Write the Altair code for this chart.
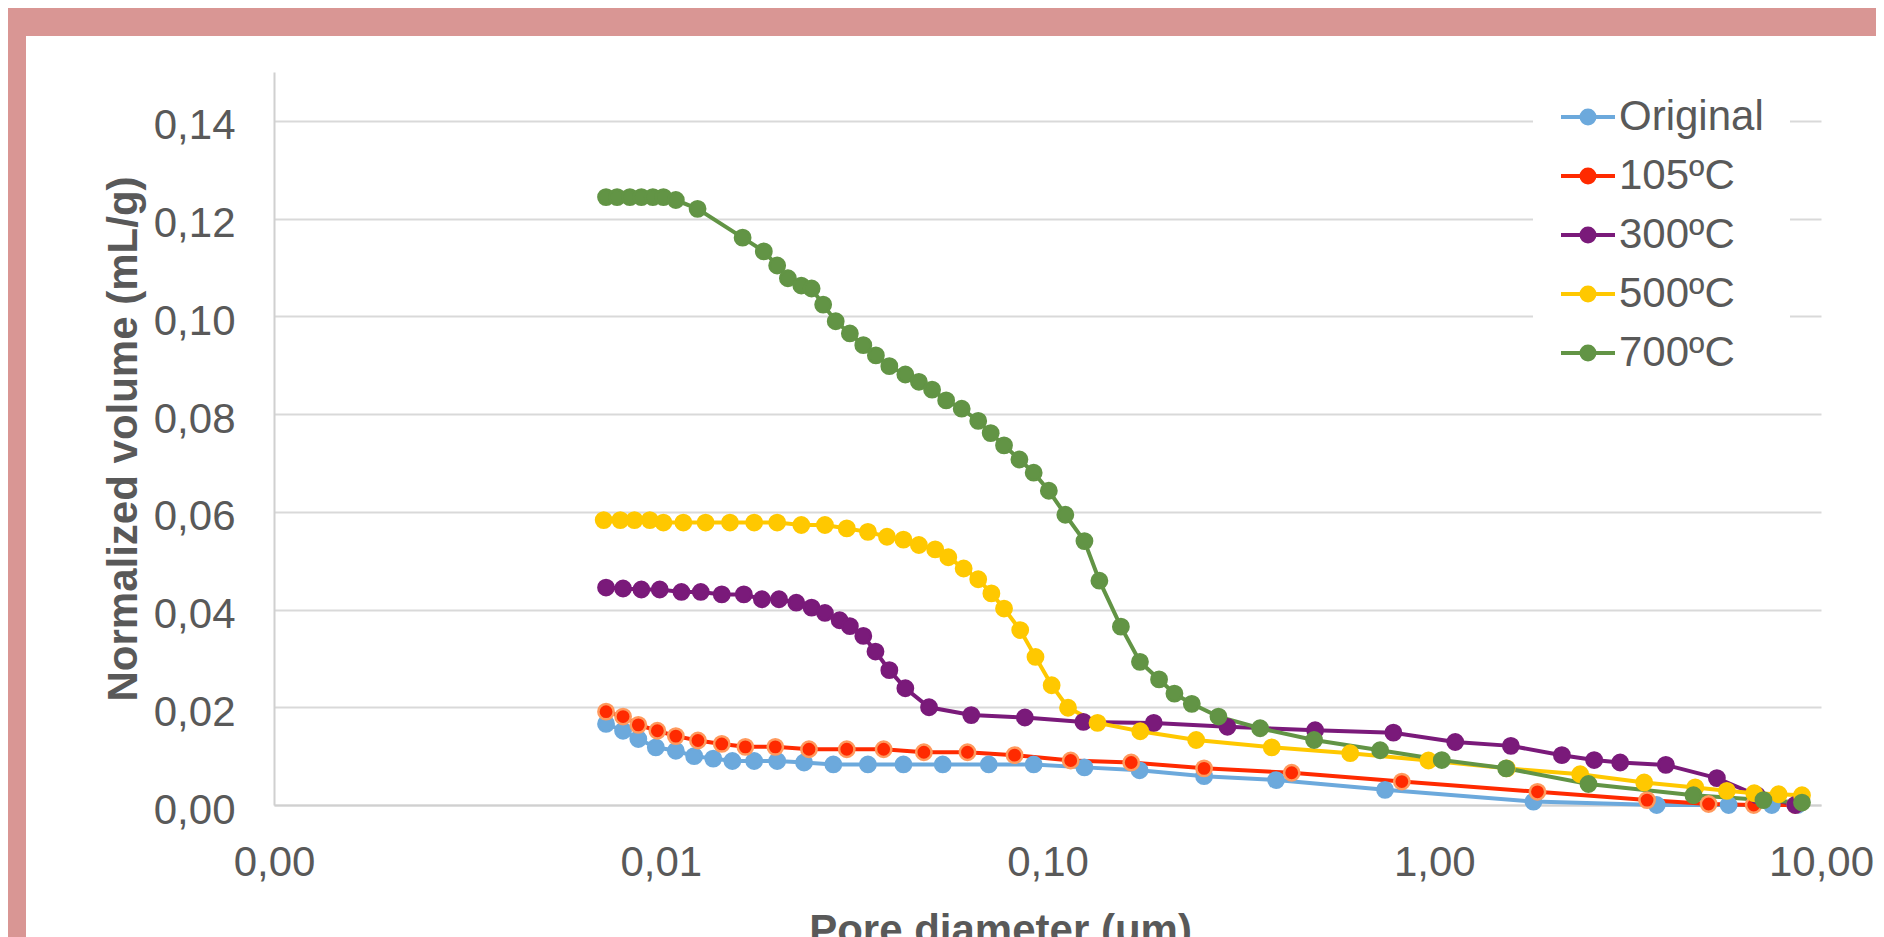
import altair as alt
import pandas as pd

# ---------------- data ----------------
series_names = ["Original", "105ºC", "300ºC", "500ºC", "700ºC"]
series_colors = ["#6CA9DC", "#FF2A00", "#7A1A7A", "#FFC800", "#629445"]
halo_105 = "#FF9A5E"

orig_x = [0.00722, 0.00799, 0.00875, 0.00971, 0.01094, 0.0122, 0.01367, 0.01532, 0.01744, 0.0200,
          0.02347, 0.02794, 0.03433, 0.04241, 0.0536, 0.0705, 0.0921, 0.1246, 0.1730, 0.254,
          0.390, 0.746, 1.805, 3.76, 5.77, 7.46, 8.7]
orig_y = [0.0166, 0.0152, 0.0135, 0.0118, 0.0111, 0.0100, 0.0095, 0.0090, 0.0090, 0.0090,
          0.0087, 0.0083, 0.0083, 0.0083, 0.0083, 0.0083, 0.0083, 0.0077, 0.0071, 0.0059,
          0.0051, 0.0031, 0.0007, 0.0000, 0.0000, 0.0000, 0.0000]

t105_x = [0.00722, 0.00799, 0.00875, 0.00980, 0.01094, 0.01248, 0.01438, 0.01655, 0.01978, 0.02417,
          0.03027, 0.0377, 0.0479, 0.0621, 0.0822, 0.1148, 0.1646, 0.254, 0.428, 0.8245,
          1.849, 3.55, 5.12, 6.70, 8.58]
t105_y = [0.0191, 0.0181, 0.0164, 0.0152, 0.0141, 0.0132, 0.0125, 0.0119, 0.0119, 0.0114,
          0.0114, 0.0114, 0.0108, 0.0108, 0.0102, 0.0091, 0.0087, 0.0075, 0.0066, 0.0048,
          0.0027, 0.0010, 0.0002, 0.0000, 0.0000]

t300_x = [0.00722, 0.00799, 0.00891, 0.00994, 0.01131, 0.01269, 0.01438, 0.01640, 0.01826, 0.02022,
          0.02241, 0.02455, 0.02658, 0.02901, 0.03083, 0.0334, 0.03591, 0.0390, 0.0429, 0.0494,
          0.0635, 0.0874, 0.1238, 0.1883, 0.2919, 0.492, 0.784, 1.133, 1.578, 2.138,
          2.591, 3.025, 3.97, 5.38, 6.83, 8.58]
t300_y = [0.0445, 0.0443, 0.0441, 0.0441, 0.0436, 0.0436, 0.0431, 0.0431, 0.0421, 0.0421,
          0.0414, 0.0404, 0.0393, 0.0378, 0.0366, 0.0346, 0.0314, 0.0276, 0.0239, 0.0200,
          0.0184, 0.0179, 0.0170, 0.0168, 0.0160, 0.0153, 0.0148, 0.0129, 0.0121, 0.0102,
          0.0092, 0.0087, 0.0082, 0.0055, 0.0020, 0.0000]

t500_x = [0.00712, 0.00786, 0.00855, 0.00937, 0.01016, 0.01144, 0.01306, 0.01510, 0.01744, 0.0200,
          0.02309, 0.02658, 0.03027, 0.03433, 0.03846, 0.04241, 0.0465, 0.05124, 0.0554, 0.0607,
          0.0662, 0.0716, 0.0772, 0.0850, 0.0931, 0.1025, 0.1130, 0.1347, 0.1737, 0.2423,
          0.380, 0.6063, 0.9661, 1.54, 2.384, 3.49, 4.73, 5.71, 6.72, 7.77, 8.93]
t500_y = [0.0583, 0.0583, 0.0583, 0.0583, 0.0578, 0.0578, 0.0578, 0.0578, 0.0578, 0.0578,
          0.0573, 0.0573, 0.0566, 0.0559, 0.0549, 0.0543, 0.0532, 0.0523, 0.0507, 0.0484,
          0.0462, 0.0433, 0.0402, 0.0358, 0.0303, 0.0245, 0.0199, 0.0168, 0.0151, 0.0133,
          0.0118, 0.0106, 0.0091, 0.0075, 0.0063, 0.0046, 0.0036, 0.0029, 0.0024, 0.0022, 0.0020]

t700_x = [0.00722, 0.00771, 0.00832, 0.00891, 0.00954, 0.01016, 0.01094, 0.01245, 0.01628, 0.01847,
          0.0200, 0.02132, 0.02309, 0.02455, 0.0263, 0.02834, 0.03083, 0.0334, 0.0360, 0.0390,
          0.0429, 0.0465, 0.0503, 0.0547, 0.0600, 0.0662, 0.0713, 0.0772, 0.0846, 0.0921,
          0.1008, 0.1112, 0.1246, 0.1362, 0.1548, 0.1734, 0.1943, 0.2129, 0.2361, 0.2767,
          0.3546, 0.489, 0.7245, 1.046, 1.534, 2.505, 4.68, 7.10, 8.93]
t700_y = [0.1244, 0.1244, 0.1244, 0.1244, 0.1244, 0.1244, 0.1238, 0.1220, 0.1161, 0.1133,
          0.1104, 0.1078, 0.1063, 0.1057, 0.1024, 0.0990, 0.0965, 0.0941, 0.0920, 0.0898,
          0.0881, 0.0866, 0.0850, 0.0828, 0.0811, 0.0786, 0.0761, 0.0736, 0.0707, 0.0680,
          0.0643, 0.0594, 0.0540, 0.0459, 0.0365, 0.0293, 0.0257, 0.0228, 0.0207, 0.0181,
          0.0157, 0.0133, 0.0112, 0.0092, 0.0075, 0.0043, 0.0020, 0.0010, 0.0005]

x_tick_values = [0.001, 0.01, 0.1, 1, 10]
x_tick_labels = ["0,00", "0,01", "0,10", "1,00", "10,00"]
y_tick_values = [0, 0.02, 0.04, 0.06, 0.08, 0.1, 0.12, 0.14]
y_tick_labels = ["0,00", "0,02", "0,04", "0,06", "0,08", "0,10", "0,12", "0,14"]

# ---------------- table ----------------
rows = []
for name, xs, ys in zip(series_names,
                        [orig_x, t105_x, t300_x, t500_x, t700_x],
                        [orig_y, t105_y, t300_y, t500_y, t700_y]):
    for a, b in zip(xs, ys):
        rows.append({"series": name, "d": a, "v": b})
df = pd.DataFrame(rows)

FONT = "Liberation Sans"
TXT = "#595959"
GRID = "#D9D9D9"
PINK = "#D99694"


def lab_expr(vals, labs):
    v = "[" + ",".join(repr(x) for x in vals) + "]"
    l = "[" + ",".join("'" + s + "'" for s in labs) + "]"
    return f"{l}[indexof({v}, datum.value)]"


color_scale = alt.Scale(domain=series_names, range=series_colors)

legend_symbol = ("M-1,0L1,0M-0.24,0A0.24,0.24,0,1,1,0.24,0"
                 "A0.24,0.24,0,1,1,-0.24,0Z")
leg = alt.Legend(
    title=None, orient="none", legendX=1259, legendY=-10, padding=26,
    fillColor="white", symbolType=legend_symbol, symbolSize=2916,
    symbolStrokeWidth=4, labelFont=FONT, labelFontSize=42,
    labelColor=TXT, labelOffset=2, rowPadding=9, labelLimit=500,
)

x_enc = alt.X(
    "d:Q",
    scale=alt.Scale(type="log", domain=[0.001, 10]),
    axis=alt.Axis(
        values=x_tick_values, labelExpr=lab_expr(x_tick_values, x_tick_labels),
        grid=False, ticks=False, tickSize=0, domainColor="#D0D0D0", domainWidth=2,
        labelFont=FONT, labelFontSize=42, labelColor=TXT, labelPadding=37,
        labelFlush=False, labelOverlap=False,
        title="Pore diameter (um)", titleFont=FONT, titleFontSize=42,
        titleFontWeight="bold", titleColor=TXT, titleX=726, titleY=138,
        titleBaseline="alphabetic", titleAlign="center",
    ),
)
y_enc = alt.Y(
    "v:Q",
    scale=alt.Scale(domain=[0, 0.15], nice=False),
    axis=alt.Axis(
        values=y_tick_values, labelExpr=lab_expr(y_tick_values, y_tick_labels),
        grid=True, gridColor=GRID, gridWidth=2, ticks=False, tickSize=0,
        domainColor="#D0D0D0", domainWidth=2,
        labelFont=FONT, labelFontSize=42, labelColor=TXT, labelPadding=39,
        labelOffset=5, labelFlush=False, labelOverlap=False,
        title="Normalized volume (mL/g)", titleFont=FONT, titleFontSize=42,
        titleFontWeight="bold", titleColor=TXT, titleX=-138, titleY=366.5,
        titleAngle=270, titleBaseline="alphabetic", titleAlign="center",
    ),
)

base = alt.Chart(df)

lines = base.mark_line(strokeWidth=4).encode(
    x=x_enc, y=y_enc,
    stroke=alt.Stroke("series:N", scale=color_scale, sort=series_names, legend=leg),
    detail="series:N",
)

points = base.mark_circle(size=235, opacity=1, strokeWidth=2.5).encode(
    x=x_enc, y=y_enc,
    fill=alt.Fill("series:N", scale=color_scale, sort=series_names, legend=leg),
    stroke=alt.condition(
        "datum.series === '105ºC'", alt.value(halo_105),
        alt.Stroke("series:N", scale=color_scale, sort=series_names, legend=leg),
    ),
)

# decorative frame (pink border around the white panel)
one = alt.Data(values=[{"k": 1}])
frame_top = alt.Chart(one).mark_rect(color=PINK).encode(
    x=alt.value(-270), x2=alt.value(1610), y=alt.value(-70), y2=alt.value(-36))
frame_left = alt.Chart(one).mark_rect(color=PINK).encode(
    x=alt.value(-270), x2=alt.value(-248), y=alt.value(-70), y2=alt.value(900))

chart = alt.layer(frame_top, frame_left, lines, points).properties(
    width=1547, height=733,
    padding={"left": 266, "top": 64, "right": 55, "bottom": 132},
    autosize=alt.AutoSizeParams(type="none"),
    background="white",
).configure_view(stroke=None)

chart.save("out.html", embed_options={"renderer": "svg", "actions": False})
